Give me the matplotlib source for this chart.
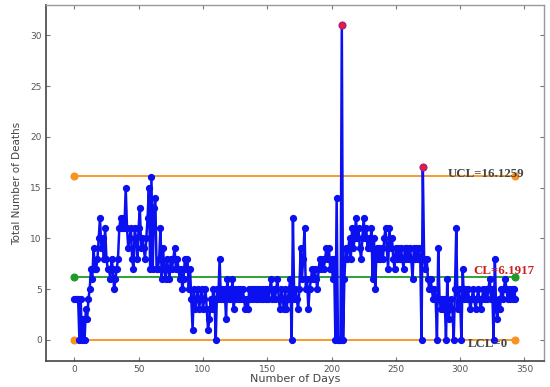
import matplotlib
matplotlib.use("Agg")
import matplotlib.pyplot as plt
import numpy as np

# daily deaths (day 0 .. 343)
deaths = [
    4, 4, 4, 4, 0, 4, 0, 2, 0, 3, 2, 4, 5, 7, 6, 9, 7, 7, 8, 10,
    12, 9, 10, 8, 11, 8, 7, 7, 6, 8, 7, 5, 6, 7, 8, 11, 12, 11, 12, 11,
    15, 11, 9, 10, 11, 8, 7, 11, 10, 8, 11, 13, 9, 10, 9, 8, 10, 12, 15, 7,
    16, 7, 13, 14, 7, 7, 8, 11, 6, 9, 7, 6, 8, 7, 6, 8, 7, 8, 9, 7,
    8, 7, 6, 7, 5, 6, 8, 7, 8, 5, 7, 4, 1, 5, 3, 4, 5, 3, 4, 5,
    3, 4, 5, 3, 1, 2, 4, 3, 5, 4, 0, 5, 4, 8, 4, 5, 4, 5, 2, 6,
    4, 5, 4, 6, 3, 5, 4, 5, 4, 5, 4, 5, 4, 3, 4, 3, 5, 4, 5, 4,
    5, 4, 5, 4, 5, 4, 5, 4, 5, 4, 5, 4, 5, 6, 4, 5, 4, 5, 6, 4,
    3, 5, 4, 3, 5, 3, 4, 5, 6, 0, 12, 4, 5, 4, 3, 5, 9, 6, 8, 11,
    5, 6, 3, 5, 6, 7, 6, 7, 6, 5, 7, 8, 7, 8, 7, 8, 9, 8, 9, 7,
    8, 6, 8, 0, 14, 0, 0, 0, 31, 0, 6, 9, 8, 9, 10, 8, 11, 9, 10, 12,
    10, 11, 9, 8, 10, 12, 10, 11, 9, 10, 9, 11, 6, 10, 5, 9, 8, 9, 8, 9,
    8, 10, 11, 9, 7, 11, 9, 10, 8, 7, 9, 8, 9, 8, 9, 8, 7, 9, 8, 9,
    8, 9, 8, 6, 9, 8, 9, 8, 9, 8, 0, 17, 8, 7, 8, 6, 5, 6, 5, 4,
    5, 4, 0, 9, 4, 3, 4, 3, 4, 0, 6, 2, 3, 4, 3, 0, 5, 11, 3, 5,
    4, 0, 7, 4, 5, 4, 5, 4, 3, 4, 5, 4, 3, 4, 5, 4, 3, 4, 5, 4,
    5, 4, 5, 6, 4, 5, 0, 8, 3, 2, 4, 3, 5, 4, 5, 6, 5, 4, 5, 4,
    5, 4, 5, 4,
]
ucl = 16.1259
cl = 6.1917
lcl = 0

days = np.arange(len(deaths))
deaths = np.array(deaths)
first, last = days[0], days[-1]

fig = plt.figure(figsize=(5.5, 3.87), dpi=100)
ax = fig.add_axes([0.0836, 0.067, 0.905, 0.92])

# control limits with dots at both ends
ax.plot([first, last], [ucl, ucl], color="#f7931e", lw=1.3,
        marker="o", ms=4.8, zorder=2)
ax.plot([first, last], [cl, cl], color="#1e9a28", lw=1.3,
        marker="o", ms=4.8, zorder=2)
ax.plot([first, last], [lcl, lcl], color="#f7931e", lw=1.3,
        marker="o", ms=4.8, zorder=2)

# daily series
ax.plot(days, deaths, color="#0a10f0", lw=1.8, marker="o", ms=4.2,
        zorder=3)

# points above UCL
out = deaths > ucl
ax.plot(days[out], deaths[out], ls="none", marker="o", ms=4.8,
        markerfacecolor="#e8202a", markeredgecolor="#b0208a", zorder=4)

serif = dict(family="Liberation Serif", weight="bold", fontsize=9.3)
ax.text(290, ucl + 0.25, "UCL=16.1259", color="#444444", va="center", **serif)
ax.text(310, cl + 0.6, "CL=6.1917", color="#cc1f1f", va="center", **serif)
ax.text(306, lcl - 0.45, "LCL=0", color="#444444", va="center", **serif)

ax.set_xlim(-22, 365)
ax.set_ylim(-2.1, 33)
ax.set_xticks(np.arange(0, 351, 50))
ax.set_yticks(np.arange(0, 31, 5))

ax.tick_params(direction="in", top=True, right=True, length=3,
               labelsize=6.5, labelcolor="#555555", color="#777777",
               pad=3)
ax.set_xlabel("Number of Days", fontsize=8, color="#444444", labelpad=0)
ax.set_ylabel("Total Number of Deaths", fontsize=7.5, color="#444444",
              labelpad=6)

for side in ("left", "bottom"):
    ax.spines[side].set_color("#444444")
    ax.spines[side].set_linewidth(1.2)
for side in ("top", "right"):
    ax.spines[side].set_color("#999999")
    ax.spines[side].set_linewidth(1.0)

fig.savefig("out.png", dpi=100)
